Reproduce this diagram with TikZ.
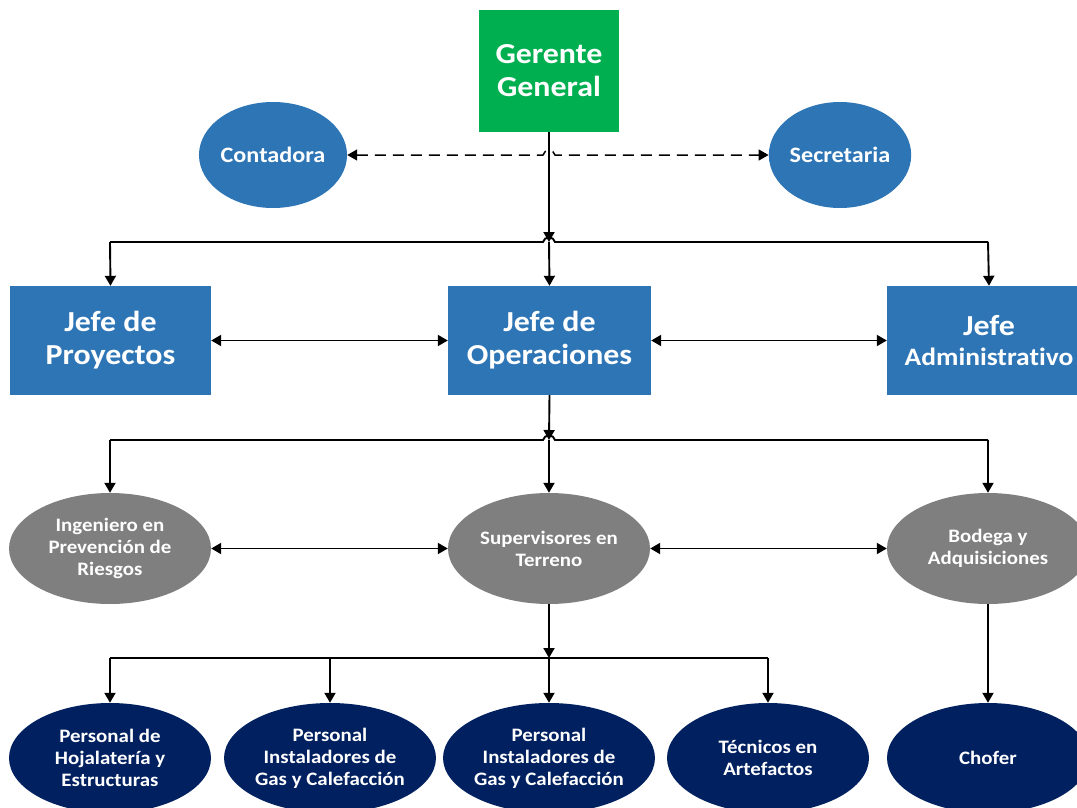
\documentclass[tikz,border=0pt]{standalone}
\usepackage{fontspec}
\setmainfont[FakeStretch=1.1,Ligatures=NoCommon]{Carlito}
\usetikzlibrary{shapes.geometric,arrows.meta}
\definecolor{ggreen}{RGB}{0,176,80}
\definecolor{oblue}{RGB}{46,117,182}
\definecolor{ogray}{RGB}{127,127,127}
\definecolor{onavy}{RGB}{0,32,96}
\begin{document}
\begin{tikzpicture}[x=1pt,y=-1pt,
  conn/.style={line width=1.9pt, draw=black},
  arr/.style={conn,-{Triangle[length=10pt,width=11pt]}},
  darr/.style={conn,{Triangle[length=10pt,width=11pt]}-{Triangle[length=10pt,width=11pt]}},
  dasharr/.style={darr,line width=1.5pt,dash pattern=on 11pt off 7pt},
  box/.style={rectangle, inner sep=0pt, text=white, align=center, font=\bfseries\fontsize{29}{33}\selectfont},
  ell/.style={ellipse, inner sep=0pt, text=white, align=center},
  topell/.style={ell, fill=oblue, minimum width=140pt, minimum height=106pt, font=\bfseries\fontsize{22}{26}\selectfont},
  grayell/.style={ell, fill=ogray, minimum width=202pt, minimum height=111pt, font=\bfseries\fontsize{19}{22}\selectfont},
  navyell/.style={ell, fill=onavy, minimum width=202pt, minimum height=110pt, font=\bfseries\fontsize{19}{22}\selectfont}
]
\useasboundingbox (0,0) rectangle (1077,808);
\clip (0,0) rectangle (1077,808);

% nodes
\node[box, fill=ggreen, minimum width=140pt, minimum height=122pt] (gg) at (549,71) {Gerente\\General};
\node[topell] (cont) at (273,155) {Contadora};
\node[topell] (secr) at (840,155) {Secretaria};

\node[box, fill=oblue, minimum width=201pt, minimum height=109pt] (jp) at (110.5,340.5) {Jefe de\\Proyectos};
\node[box, fill=oblue, minimum width=203pt, minimum height=109pt] (jo) at (549.5,340.5) {Jefe de\\Operaciones};
\node[box, fill=oblue, minimum width=204pt, minimum height=109pt] (ja) at (989,340.5) {Jefe\\[-3pt]{\fontsize{25}{30}\selectfont Administrativo}};

\node[grayell] (ing) at (110,548.5) {Ingeniero en\\Prevención de\\Riesgos};
\node[grayell] (sup) at (549,548.5) {Supervisores en\\Terreno};
\node[grayell] (bod) at (988,548.5) {Bodega y\\Adquisiciones};

\node[navyell] (p1) at (110,758) {Personal de\\Hojalatería y\\Estructuras};
\node[navyell] (p2) at (330,758) {Personal\\Instaladores de\\Gas y Calefacción};
\node[navyell] (p3) at (549,758) {Personal\\Instaladores de\\Gas y Calefacción};
\node[navyell] (tec) at (768,758) {Técnicos en\\Artefactos};
\node[navyell] (chof) at (988,758) {Chofer};

% junction coordinates
\coordinate (j1) at (549,242);
\coordinate (j1l) at (110,242);
\coordinate (j1r) at (988,242);
\coordinate (h1a) at (543,242);
\coordinate (h1b) at (555,242);
\coordinate (j2) at (549,440);
\coordinate (j2l) at (110,440);
\coordinate (j2r) at (988,440);
\coordinate (h2a) at (543,440);
\coordinate (h2b) at (555,440);
\coordinate (j3) at (549,658);
\coordinate (j3l) at (110,658);
\coordinate (j3b) at (330,658);
\coordinate (j3r) at (768,658);
\coordinate (hda) at (543,155);
\coordinate (hdb) at (555,155);

% dashed link with hop
\draw[dasharr] (cont.east) -- (hda) .. controls (544,149) and (554,149) .. (hdb) -- (secr.west);

% level 1
\draw[arr] (gg.south) -- (j1);
\draw[conn] (j1l) -- (h1a) .. controls (544,236) and (554,236) .. (h1b) -- (j1r);
\draw[arr] (j1l) -- (jp.north);
\draw[arr] (j1) -- (jo.north);
\draw[arr] (j1r) -- (ja.north);
\draw[darr] (jp.east) -- (jo.west);
\draw[darr] (jo.east) -- (ja.west);

% level 2
\draw[arr] (jo.south) -- (j2);
\draw[conn] (j2l) -- (h2a) .. controls (544,434) and (554,434) .. (h2b) -- (j2r);
\draw[arr] (j2l) -- (ing.north);
\draw[arr] (j2) -- (sup.north);
\draw[arr] (j2r) -- (bod.north);
\draw[darr] (ing.east) -- (sup.west);
\draw[darr] (sup.east) -- (bod.west);

% level 3
\draw[arr] (sup.south) -- (j3);
\draw[conn] (j3l) -- (j3r);
\draw[arr] (j3l) -- (p1.north);
\draw[arr] (j3b) -- (p2.north);
\draw[arr] (j3) -- (p3.north);
\draw[arr] (j3r) -- (tec.north);
\draw[arr] (bod.south) -- (chof.north);
\end{tikzpicture}
\end{document}
